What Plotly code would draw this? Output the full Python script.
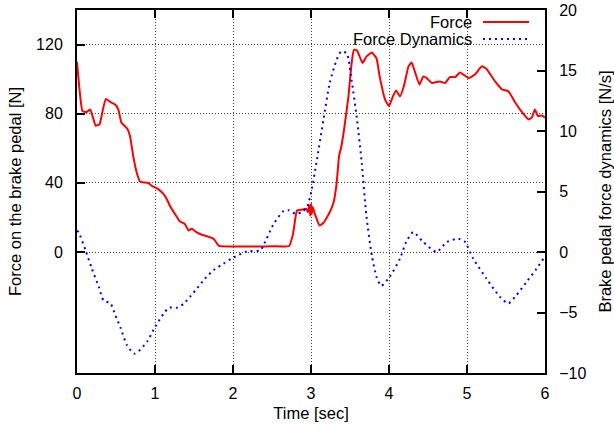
import plotly.graph_objects as go

# ---- data ----
t_force = [0, 0.03, 0.07, 0.12, 0.17, 0.21, 0.24, 0.29, 0.33, 0.37, 0.42, 0.49, 0.53, 0.57,
           0.645, 0.68, 0.72, 0.765, 0.81, 0.91, 0.96, 1.04, 1.11, 1.15, 1.19, 1.27, 1.32,
           1.38, 1.43, 1.47, 1.53, 1.6, 1.66, 1.75, 1.82, 2.0, 2.3, 2.5, 2.72, 2.77, 2.82,
           2.88, 2.94, 2.96, 2.98, 2.99, 3.0, 3.01, 3.02, 3.05, 3.11, 3.16, 3.24, 3.29, 3.33,
           3.36, 3.39, 3.43, 3.48, 3.52, 3.55, 3.59, 3.66, 3.71, 3.78, 3.84, 3.88, 3.95, 4.0,
           4.05, 4.09, 4.14, 4.19, 4.25, 4.29, 4.33, 4.39, 4.44, 4.48, 4.55, 4.65, 4.72, 4.78,
           4.85, 4.91, 5.02, 5.1, 5.19, 5.25, 5.36, 5.45, 5.53, 5.62, 5.68, 5.79, 5.83, 5.87,
           5.91, 5.96, 6.0]
force = [110, 95, 81.5, 81, 82.4, 77, 73, 74, 82, 88.6, 87, 85.3, 82.4, 74.8,
         71.3, 67, 55.6, 46, 40.6, 40, 38.3, 36.4, 33.5, 30.7, 26.8, 21, 17.6,
         16.3, 12.4, 13.4, 11.5, 10, 9.2, 7.7, 3.5, 3.2, 3.2, 3.3, 3.5, 10.5, 24,
         24.5, 25, 23, 27, 21, 28, 22, 26, 22, 15.3, 16.9, 23, 28.8, 40.3,
         55.6, 61.3, 72.8, 90, 109, 117, 116.6, 109.3, 113, 115.4, 112, 101.6, 88.2, 84.4,
         90, 93.5, 90, 95.9, 107.4, 109.7, 104.5, 96.8, 101.6, 100.7, 97.8, 98.7, 97.8, 101.2,
         101.2, 103.9, 100.7, 102.6, 107.4, 105.9, 98.7, 94, 93, 86.3, 82.4, 76.7, 77.7, 82.4,
         78.6, 79, 77.7]

t_dyn = [0, 0.02, 0.11, 0.19, 0.28, 0.34, 0.43, 0.49, 0.56, 0.64, 0.73, 0.79, 0.9, 1.0,
         1.11, 1.18, 1.29, 1.37, 1.45, 1.54, 1.64, 1.75, 1.88, 1.98, 2.18, 2.35, 2.39, 2.52,
         2.65, 2.72, 2.8, 2.88, 2.95, 3.01, 3.07, 3.16, 3.24, 3.33, 3.39, 3.46, 3.52, 3.59,
         3.65, 3.71, 3.78, 3.84, 3.9, 4.01, 4.14, 4.22, 4.31, 4.44, 4.61, 4.74, 4.89, 4.97,
         5.08, 5.25, 5.42, 5.53, 5.63, 5.76, 5.89, 5.98, 6.0]
dyn = [1.75, 1.64, 0.13, -1.37, -2.9, -4.0, -4.25, -5.2, -6.3, -7.7, -8.4, -8.2, -7.4, -6.2,
       -5.1, -4.6, -4.6, -4.25, -3.7, -3.0, -2.2, -1.5, -0.96, -0.55, 0.05, 0.13, 0.54, 2.3,
       3.4, 3.45, 3.15, 3.3, 3.7, 5.2, 7.4, 10.95, 13.97, 15.9, 16.6, 16.4, 14.2, 10.95,
       7.4, 3.0, -0.3, -2.05, -2.8, -2.05, -0.55, 0.82, 1.64, 0.82, 0, 0.82, 1.1, 0.87,
       -0.55, -2.2, -3.7, -4.25, -3.6, -2.5, -1.4, -0.55, -0.4]

x_ticks = [0, 1, 2, 3, 4, 5, 6]
y_ticks = [0, 40, 80, 120]
y2_ticks = [-10, -5, 0, 5, 10, 15, 20]

FONT = "Liberation Sans, Arial, sans-serif"
TICK_SIZE = 16
TITLE_SIZE = 16.5
GRID = dict(showgrid=True, gridcolor="rgba(0,0,0,0.75)", griddash="1px,2px", gridwidth=1)

fig = go.Figure()
fig.add_trace(go.Scatter(x=t_force, y=force, mode="lines", name="Force",
                         line=dict(color="#ff0000", width=2, shape="spline", smoothing=0.4),
                         yaxis="y"))
fig.add_trace(go.Scatter(x=t_dyn, y=dyn, mode="lines", name="Force Dynamics",
                         line=dict(color="#0000ff", width=2, dash="2px,4px", shape="spline",
                                   smoothing=0.6),
                         yaxis="y2"))

fig.update_layout(
    width=614, height=432,
    margin=dict(l=77, r=69, t=10, b=59, autoexpand=False),
    paper_bgcolor="white", plot_bgcolor="white",
    font=dict(family=FONT, size=TICK_SIZE, color="black"),
    showlegend=False,
    xaxis=dict(range=[0, 6], tickvals=x_ticks, ticks="inside", ticklen=8, tickwidth=1.5,
               tickcolor="black", showline=True, linecolor="black", linewidth=2,
               mirror="ticks", zeroline=False, ticklabelstandoff=5, automargin=False,
               title=dict(text="Time [sec]", standoff=6, font=dict(size=TITLE_SIZE)),
               **GRID),
    yaxis=dict(range=[-70, 140], tickvals=y_ticks, ticks="inside", ticklen=8, tickwidth=1.5,
               tickcolor="black", showline=True, linecolor="black", linewidth=2,
               zeroline=False, ticklabelstandoff=9, automargin=False,
               title=dict(text="Force on the brake pedal [N]", standoff=10,
                          font=dict(size=TITLE_SIZE)),
               **GRID),
    yaxis2=dict(range=[-10, 20], tickvals=y2_ticks, overlaying="y", side="right",
                ticks="inside", ticklen=8, tickwidth=1.5, tickcolor="black",
                showline=True, linecolor="black", linewidth=2, showgrid=False,
                zeroline=False, ticklabelstandoff=9, automargin=False,
                title=dict(text="Brake pedal force dynamics [N/s]", standoff=15,
                           font=dict(size=TITLE_SIZE))),
)

# gnuplot-style legend (text on left, sample on right)
legend_items = [("Force", "#ff0000", "solid", 0.967), ("Force Dynamics", "#0000ff", "2px,4px", 0.920)]
for label, color, dash, yp in legend_items:
    fig.add_annotation(text=label, xref="paper", yref="paper", x=0.848, y=yp,
                       xanchor="right", yanchor="middle", showarrow=False,
                       font=dict(size=TITLE_SIZE, color="black"))
    fig.add_shape(type="line", xref="paper", yref="paper", x0=0.8675, x1=0.966, y0=yp, y1=yp,
                  line=dict(color=color, width=2, dash=dash))

fig.write_html("out.html")
